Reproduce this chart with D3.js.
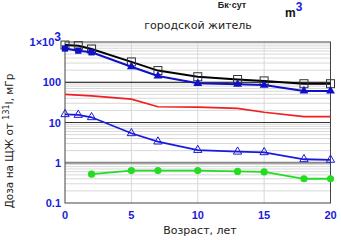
<!DOCTYPE html>
<html><head><meta charset="utf-8">
<script src="https://cdn.jsdelivr.net/npm/d3@7"></script>
<style>body{margin:0;background:#fff}svg{display:block}</style>
</head><body>
<svg id="c" width="341" height="240"></svg>
<script>
const ages = [0, 1, 2, 5, 7, 10, 13, 15, 18, 20];
const blackSquares = [840, 810, 670, 320, 195, 137, 117, 108, 92, 92];
const blueFilled = [690, 610, 555, 243, 143, 94, 89, 85, 61, 61];
const redAges = [0, 2, 5, 7, 10, 13, 15, 18, 20];
const redLine = [50, 46, 38, 24.6, 24, 22.5, 18, 14, 14];
const blueOpen = [16, 15.4, 13.5, 5.4, 3.35, 2.07, 1.88, 1.82, 1.22, 1.18];
const greenAges = [2, 5, 7, 10, 13, 15, 18, 20];
const greenDots = [0.52, 0.64, 0.64, 0.64, 0.61, 0.59, 0.40, 0.40];
const xTicks = [0, 5, 10, 15, 20];
const yTicks = [1000, 100, 10, 1, 0.1];

const svg = d3.select("#c");
const L = 65, R = 330.5, T = 42, B = 203;
const x = d3.scaleLinear().domain([0, 20]).range([L, R]);
const y = d3.scaleLog().domain([0.1, 1000]).range([B, T]);
const blue = "#1a1adc";
const txtFont = "DejaVu Sans, Verdana, sans-serif";

// minor grid
const minors = [];
[0.1, 1, 10, 100].forEach(d => { for (let k = 2; k <= 9; k++) minors.push(d * k); });
svg.append("g").selectAll("line").data(minors).join("line")
  .attr("x1", L).attr("x2", R).attr("y1", d => y(d)).attr("y2", d => y(d))
  .attr("stroke", "#d8d8d8").attr("stroke-width", 1);
// vertical grid
svg.append("g").selectAll("line").data([5, 10, 15]).join("line")
  .attr("x1", d => x(d)).attr("x2", d => x(d)).attr("y1", T).attr("y2", B)
  .attr("stroke", "#d8d8d8").attr("stroke-width", 1);
// major grid
svg.append("line").attr("x1", L).attr("x2", R).attr("y1", y(100)).attr("y2", y(100)).attr("stroke", "#000").attr("stroke-width", 1);
svg.append("line").attr("x1", L).attr("x2", R).attr("y1", y(10)).attr("y2", y(10)).attr("stroke", "#333").attr("stroke-width", 1.2);
svg.append("line").attr("x1", L).attr("x2", R).attr("y1", y(1)).attr("y2", y(1)).attr("stroke", "#888").attr("stroke-width", 1.8);

// frame
svg.append("rect").attr("x", L).attr("y", T).attr("width", R - L).attr("height", B - T)
  .attr("fill", "none").attr("stroke", "#444").attr("stroke-width", 1);

const line = (xs) => d3.line().x((d, i) => x(xs[i])).y(d => y(d));

// red line
svg.append("path").attr("d", line(redAges)(redLine)).attr("fill", "none").attr("stroke", "#f02020").attr("stroke-width", 1.7);

// blue open triangles
svg.append("path").attr("d", line(ages)(blueOpen)).attr("fill", "none").attr("stroke", blue).attr("stroke-width", 1.8);
svg.append("g").selectAll("path").data(blueOpen).join("path")
  .attr("transform", (d, i) => `translate(${x(ages[i])},${y(d)})`)
  .attr("d", d3.symbol(d3.symbolTriangle, 30))
  .attr("fill", "none").attr("stroke", blue).attr("stroke-width", 1);

// green
svg.append("path").attr("d", line(greenAges)(greenDots)).attr("fill", "none").attr("stroke", "#22dd22").attr("stroke-width", 1.8);
svg.append("g").selectAll("circle").data(greenDots).join("circle")
  .attr("cx", (d, i) => x(greenAges[i])).attr("cy", d => y(d)).attr("r", 3.6).attr("fill", "#22dd22");

// black line with open squares
svg.append("path").attr("d", line(ages)(blackSquares)).attr("fill", "none").attr("stroke", "#000").attr("stroke-width", 2);
svg.append("g").selectAll("rect").data(blackSquares).join("rect")
  .attr("x", (d, i) => x(ages[i]) - 4).attr("y", d => y(d) - 4).attr("width", 8).attr("height", 8)
  .attr("fill", "none").attr("stroke", "#333").attr("stroke-width", 1);

// blue filled
svg.append("path").attr("d", line(ages)(blueFilled)).attr("fill", "none").attr("stroke", "#1010c8").attr("stroke-width", 2);
svg.append("g").selectAll("path").data(blueFilled).join("path")
  .attr("transform", (d, i) => `translate(${x(ages[i])},${y(d)})`)
  .attr("d", (d, i) => d3.symbol(i < 3 ? d3.symbolSquare : d3.symbolTriangle, i < 3 ? 40 : 34)())
  .attr("fill", "#1010c8");

// x ticks
svg.append("g").selectAll("text").data(xTicks).join("text")
  .attr("x", d => x(d)).attr("y", 219).attr("text-anchor", "middle")
  .attr("font-family", "Liberation Sans, Arial, sans-serif").attr("font-size", 11).attr("font-weight", "bold")
  .attr("fill", blue).text(d => d);
// y ticks
const yt = svg.append("g").selectAll("text").data(yTicks).join("text")
  .attr("x", 61).attr("y", d => y(d) + 4).attr("text-anchor", "end")
  .attr("font-family", "Liberation Sans, Arial, sans-serif").attr("font-size", 11).attr("font-weight", "bold")
  .attr("fill", blue);
yt.each(function (d) {
  const t = d3.select(this);
  if (d === 1000) {
    t.append("tspan").text("1×10");
    t.append("tspan").attr("dy", -5).attr("font-size", 12).text("3");
  } else t.text(d);
});

// titles
svg.append("text").attr("x", 198).attr("y", 29).attr("text-anchor", "middle")
  .attr("font-family", txtFont).attr("font-size", 11).attr("fill", "#222")
  .text("городской житель");
svg.append("text").attr("x", 232).attr("y", 8).attr("text-anchor", "middle")
  .attr("font-family", "Liberation Sans, Arial, sans-serif").attr("font-size", 9).attr("font-weight", "bold").attr("fill", "#222")
  .text("Бк·сут");
const mt = svg.append("text").attr("x", 285).attr("y", 17)
  .attr("font-family", "Liberation Sans, Arial, sans-serif").attr("font-size", 12).attr("font-weight", "bold").attr("fill", "#111");
mt.append("tspan").text("m");
mt.append("tspan").attr("dy", -6).attr("fill", blue).text("3");

svg.append("text").attr("x", 200).attr("y", 234).attr("text-anchor", "middle")
  .attr("font-family", txtFont).attr("font-size", 11).attr("fill", "#222")
  .text("Возраст, лет");

const yl = svg.append("text").attr("transform", "translate(13,141) rotate(-90)").attr("text-anchor", "middle")
  .attr("font-family", txtFont).attr("font-size", 10.5).attr("fill", "#222");
yl.append("tspan").text("Доза на ЩЖ от ");
yl.append("tspan").attr("dy", -4).attr("font-size", 8).text("131");
yl.append("tspan").attr("dy", 4).text("I, мГр");
</script>
</body></html>
